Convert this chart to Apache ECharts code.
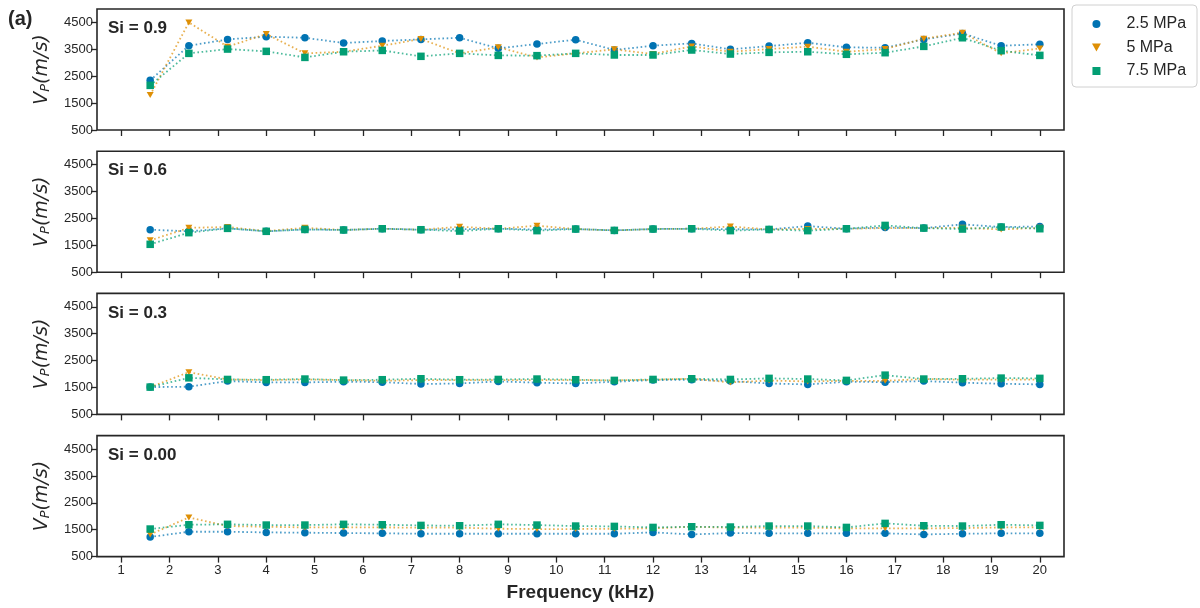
<!DOCTYPE html>
<html>
<head>
<meta charset="utf-8">
<title>P-wave velocity vs frequency</title>
<script src="https://cdn.jsdelivr.net/npm/echarts@6/dist/echarts.min.js"></script>
<style>
  html, body { margin: 0; padding: 0; background: #ffffff; }
  #chart { width: 1200px; height: 608px; }
</style>
</head>
<body>
<div id="chart"></div>
<script>
// Measurement frequencies (kHz)
const freq = [1.6, 2.4, 3.2, 4.0, 4.8, 5.6, 6.4, 7.2, 8.0, 8.8, 9.6, 10.4,
              11.2, 12.0, 12.8, 13.6, 14.4, 15.2, 16.0, 16.8, 17.6, 18.4, 19.2, 20.0];
const xTicks = [1, 2, 3, 4, 5, 6, 7, 8, 9, 10, 11, 12, 13, 14, 15, 16, 17, 18, 19, 20];
const yTicks = [500, 1500, 2500, 3500, 4500];
const pressures = ['2.5 MPa', '5 MPa', '7.5 MPa'];
const panelTitles = ['Si = 0.9', 'Si = 0.6', 'Si = 0.3', 'Si = 0.00'];

// Vp (m/s), Si = 0.9
const si09_p25 = [2346, 3635, 3870, 3970, 3930, 3735, 3810, 3870, 3930, 3536, 3697, 3858, 3475, 3635, 3720, 3500, 3620, 3745, 3573, 3560, 3870, 4090, 3635, 3685];
const si09_p50 = [1800, 4500, 3598, 4070, 3350, 3410, 3635, 3883, 3350, 3573, 3200, 3350, 3500, 3325, 3610, 3410, 3510, 3600, 3410, 3510, 3895, 4120, 3350, 3535];
const si09_p75 = [2160, 3350, 3510, 3425, 3200, 3410, 3460, 3240, 3350, 3275, 3265, 3350, 3290, 3290, 3475, 3325, 3387, 3410, 3315, 3375, 3610, 3930, 3450, 3275];

// Vp (m/s), Si = 0.6
const si06_p25 = [2080, 2020, 2130, 2020, 2090, 2070, 2117, 2080, 2100, 2117, 2090, 2105, 2055, 2105, 2117, 2100, 2090, 2215, 2117, 2160, 2140, 2280, 2180, 2200];
const si06_p50 = [1685, 2150, 2180, 2030, 2150, 2070, 2117, 2080, 2190, 2117, 2230, 2105, 2055, 2105, 2117, 2200, 2090, 2110, 2117, 2140, 2140, 2150, 2090, 2150];
const si06_p75 = [1537, 1970, 2130, 2020, 2090, 2070, 2117, 2080, 2030, 2117, 2045, 2105, 2055, 2105, 2117, 2045, 2090, 2045, 2117, 2240, 2140, 2105, 2180, 2117];

// Vp (m/s), Si = 0.3
const si03_p25 = [1515, 1530, 1740, 1690, 1690, 1715, 1700, 1630, 1650, 1727, 1680, 1650, 1715, 1775, 1790, 1740, 1650, 1615, 1715, 1700, 1740, 1680, 1640, 1615];
const si03_p50 = [1515, 2070, 1800, 1775, 1800, 1775, 1750, 1775, 1775, 1775, 1775, 1775, 1765, 1790, 1825, 1690, 1760, 1725, 1750, 1750, 1815, 1790, 1790, 1790];
const si03_p75 = [1515, 1860, 1800, 1790, 1815, 1775, 1790, 1825, 1790, 1800, 1815, 1790, 1765, 1800, 1825, 1800, 1840, 1815, 1765, 1960, 1815, 1825, 1850, 1840];

// Vp (m/s), Si = 0.00
const si00_p25 = [1230, 1425, 1425, 1400, 1390, 1375, 1365, 1350, 1350, 1350, 1350, 1350, 1350, 1400, 1325, 1375, 1365, 1365, 1365, 1365, 1325, 1350, 1365, 1365];
const si00_p50 = [1325, 1957, 1636, 1610, 1585, 1585, 1585, 1575, 1575, 1537, 1525, 1525, 1537, 1550, 1610, 1575, 1575, 1575, 1550, 1550, 1550, 1560, 1585, 1585];
const si00_p75 = [1525, 1685, 1700, 1673, 1673, 1700, 1685, 1660, 1648, 1700, 1673, 1636, 1623, 1585, 1610, 1600, 1636, 1636, 1585, 1735, 1648, 1636, 1685, 1660];

const panels = [
  [si09_p25, si09_p50, si09_p75],
  [si06_p25, si06_p50, si06_p75],
  [si03_p25, si03_p50, si03_p75],
  [si00_p25, si00_p50, si00_p75]
];

const colors = ['#0173b2', '#de8f05', '#029e73'];
const triDown = 'path://M0,0 L10,0 L5,9 Z';
const square = 'path://M0,0 L10,0 L10,10 L0,10 Z';
const symbols = ['circle', triDown, square];
const symbolSizes = [7.5, [7, 6], 7.5];
const ink = '#262626';
const font = "'Liberation Sans', Arial, sans-serif";

const gridLeft = 97, gridWidth = 967, gridHeight = 121, gridTop0 = 9, gridStep = 142.2;

const grids = [], xAxes = [], yAxes = [], series = [], graphics = [];

panels.forEach((vals, k) => {
  const top = gridTop0 + k * gridStep;
  const last = k === panels.length - 1;
  grids.push({
    left: gridLeft, top: top, width: gridWidth, height: gridHeight,
    show: true, borderColor: ink, borderWidth: 1.6, backgroundColor: '#ffffff'
  });
  xAxes.push({
    type: 'value', gridIndex: k, min: 0.5, max: 20.5,
    axisLine: { show: false },
    splitLine: { show: false },
    axisTick: { show: true, inside: false, length: 6, customValues: xTicks,
                lineStyle: { color: ink, width: 1.3 } },
    axisLabel: { show: last, customValues: xTicks, margin: 7,
                 color: ink, fontSize: 13, fontFamily: font,
                 formatter: (v) => String(v) },
    name: last ? 'Frequency (kHz)' : '',
    nameLocation: 'middle', nameGap: 27,
    nameTextStyle: { fontSize: 19, fontWeight: 'bold', color: ink, fontFamily: font }
  });
  yAxes.push({
    type: 'value', gridIndex: k, min: 500, max: 5000,
    axisLine: { show: false },
    splitLine: { show: false },
    axisTick: { show: true, inside: false, length: 6, customValues: yTicks,
                lineStyle: { color: ink, width: 1.3 } },
    axisLabel: { customValues: yTicks, margin: 4, color: ink, fontSize: 13, fontFamily: font,
                 formatter: (v) => String(v) },
    name: '{i|V}{s|P}{i|(m/s)}',
    nameLocation: 'middle', nameRotate: 90, nameGap: 45,
    nameTextStyle: {
      color: ink,
      rich: {
        i: { fontSize: 19, fontStyle: 'italic', fontFamily: "'DejaVu Sans', sans-serif", color: ink },
        s: { fontSize: 13, fontStyle: 'italic', fontFamily: "'DejaVu Sans', sans-serif", color: ink,
             padding: [7, 0, 0, 0] }
      }
    }
  });
  vals.forEach((v, j) => {
    series.push({
      name: pressures[j],
      type: 'line',
      xAxisIndex: k, yAxisIndex: k,
      data: freq.map((f, i) => [f, v[i]]),
      symbol: symbols[j],
      symbolSize: symbolSizes[j],
      showAllSymbol: true,
      itemStyle: { color: colors[j], opacity: 1 },
      lineStyle: { color: colors[j], width: 1.8, type: [1.6, 2.6], opacity: 0.7 },
      emphasis: { disabled: true },
      animation: false,
      z: 2 + j
    });
  });
  graphics.push({
    type: 'text', left: 108, top: top + 11,
    style: { text: panelTitles[k], font: "bold 17px 'Liberation Sans', Arial, sans-serif", fill: ink }
  });
});

graphics.push({
  type: 'text', left: 8, top: 9,
  style: { text: '(a)', font: "bold 20px 'Liberation Sans', Arial, sans-serif", fill: ink }
});

const chart = echarts.init(document.getElementById('chart'), null, { renderer: 'canvas' });
chart.setOption({
  animation: false,
  backgroundColor: '#ffffff',
  grid: grids,
  xAxis: xAxes,
  yAxis: yAxes,
  series: series,
  graphic: graphics,
  legend: {
    orient: 'vertical',
    left: 1072, top: 5,
    padding: [11, 11, 8, 20],
    itemWidth: 50, itemHeight: 8, itemGap: 7.5,
    borderColor: '#d0d0d0', borderWidth: 1, borderRadius: 4,
    backgroundColor: '#ffffff',
    selectedMode: false,
    textStyle: { fontSize: 16, lineHeight: 16, color: ink, fontFamily: font },
    data: pressures.map((p, j) => ({ name: p, icon: symbols[j], itemStyle: { color: colors[j] } }))
  }
});
</script>
</body>
</html>
